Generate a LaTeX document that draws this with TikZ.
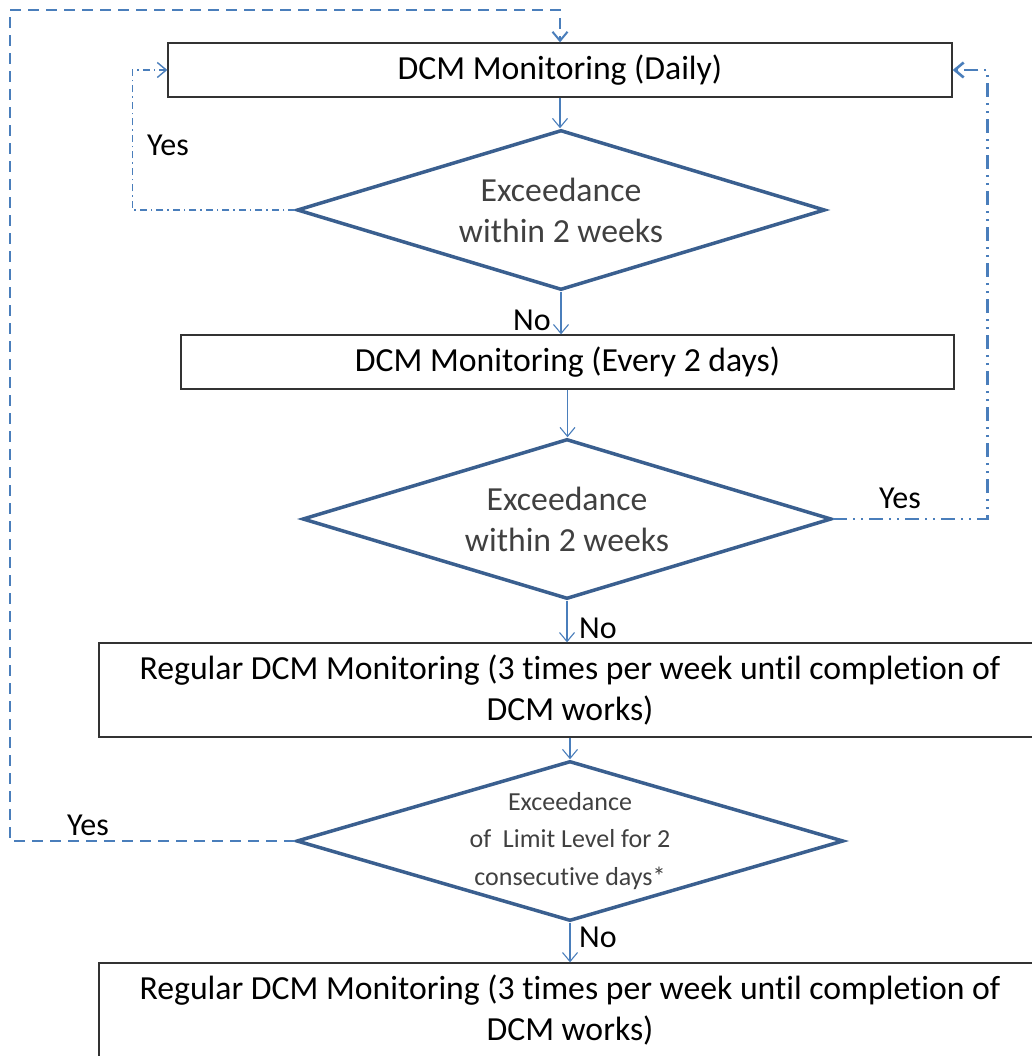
\documentclass[tikz,border=0pt]{standalone}
\usepackage{fontspec}
\setmainfont{Carlito}[Ligatures=NoCommon]
\usetikzlibrary{shapes.geometric,arrows.meta}
\definecolor{dmdblue}{HTML}{3A5F8F}
\definecolor{lnblue}{HTML}{4A7EBB}
\definecolor{txtgray}{HTML}{404040}
\begin{document}
\begin{tikzpicture}[x=1pt,y=-1pt,
  procbox/.style={draw=black!80, line width=1.3, minimum height=54, inner sep=0, align=center, font=\fontsize{33.7}{41}\selectfont},
  decision/.style={diamond, draw=dmdblue, line width=3.5, inner sep=0, aspect=3.3, minimum height=160, text=txtgray, align=center, font=\fontsize{33.7}{41}\selectfont},
  flow/.style={draw=lnblue, line width=1.1, -{Straight Barb[length=9,width=15]}},
  answer/.style={font=\fontsize{32}{38}\selectfont},
  backdaily/.style={flow, line width=1.4, dash pattern=on 7pt off 4pt on 1.5pt off 4pt},
  backevery/.style={flow, line width=2.6, dash pattern=on 14pt off 6pt on 2pt off 6pt on 2pt off 6pt},
  restart/.style={flow, line width=2, dash pattern=on 11pt off 7pt}]
\useasboundingbox (0,0) rectangle (1031,1056);
% boxes
\node[procbox, minimum width=784] (daily) at (560,70){DCM Monitoring (Daily)};
\node[decision, minimum width=528] (dec1) at (561,210){Exceedance\\within 2 weeks};
\node[procbox, minimum width=773] (every2) at (567.5,362){DCM Monitoring (Every 2 days)};
\node[decision, minimum width=529] (dec2) at (567,519){Exceedance\\within 2 weeks};
\node[procbox, minimum width=942, minimum height=94] (regular1) at (570,690){Regular DCM Monitoring (3 times per week until completion of\\DCM works)};
\node[decision, minimum width=547, font=\fontsize{26}{37.5}\selectfont] (dec3) at (570,841){Exceedance\\of~ Limit Level for 2\\consecutive days*};
\node[procbox, minimum width=942, minimum height=94] (regular2) at (570,1010){Regular DCM Monitoring (3 times per week until completion of\\DCM works)};
% main flow
\draw[flow](daily.south) -- (daily.south |- dec1.north);
\draw[flow](dec1.south) -- (dec1.south |- every2.north);
\draw[flow](every2.south) -- (every2.south |- dec2.north);
\draw[flow](dec2.south) -- (dec2.south |- regular1.north);
\draw[flow](regular1.south) -- (regular1.south |- dec3.north);
\draw[flow](dec3.south) -- (dec3.south |- regular2.north);
% loops back
\coordinate (outer) at (10,10);
\draw[backdaily](dec1.west) -- ++(-163,0) |- (daily.west);
\draw[backevery](dec2.east) -- ++(154,0) |- (daily.east);
\draw[restart](dec3.west) -| (outer) -| (daily.north);
% answers
\node[answer] (yes1) at (168,145){Yes};
\node[answer] (no1) at (532,320){No};
\node[answer] (yes2) at (900,498){Yes};
\node[answer] (no2) at (598,628){No};
\node[answer] (yes3) at (88,825){Yes};
\node[answer] (no3) at (598,937){No};
\end{tikzpicture}
\end{document}
